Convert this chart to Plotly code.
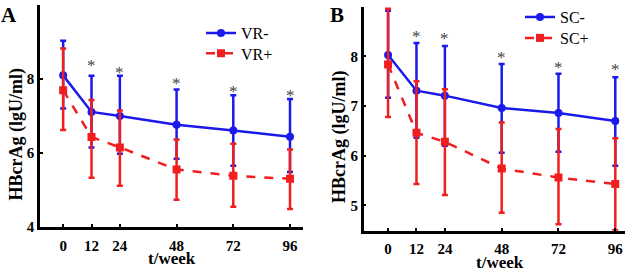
import plotly.graph_objects as go

W, H = 625, 274
weeks = [0, 12, 24, 48, 72, 96]
xtick_labels = ["0", "12", "24", "48", "72", "96"]

# Panel A
vr_minus = [8.10, 7.11, 7.00, 6.76, 6.61, 6.44]
vr_minus_up = [0.94, 0.98, 1.09, 0.96, 0.95, 1.02]
vr_minus_dn = [0.90, 0.96, 1.02, 0.92, 0.96, 0.96]
vr_plus = [7.70, 6.43, 6.15, 5.55, 5.38, 5.30]
vr_plus_up = [1.13, 1.00, 1.00, 0.81, 0.87, 0.79]
vr_plus_dn = [1.08, 1.10, 1.04, 0.82, 0.84, 0.82]
star_a_x = [12, 24, 48, 72, 96]
star_a_y = [8.48, 8.29, 8.00, 7.78, 7.67]

# Panel B
sc_minus = [8.03, 7.31, 7.21, 6.96, 6.86, 6.70]
sc_minus_up = [0.89, 0.96, 1.00, 0.89, 0.79, 0.88]
sc_minus_dn = [0.86, 0.95, 1.01, 0.90, 0.78, 0.90]
sc_plus = [7.84, 6.46, 6.28, 5.74, 5.56, 5.43]
sc_plus_up = [1.12, 1.04, 1.06, 0.93, 0.98, 0.92]
sc_plus_dn = [1.06, 1.03, 1.07, 0.89, 0.94, 0.93]
star_b_x = [12, 24, 48, 72, 96]
star_b_y = [8.49, 8.44, 8.06, 7.86, 7.82]

BLUE = "#1a1aeb"
RED = "#f01e1e"
SERIF = "Liberation Serif, Times New Roman, serif"


def px(x):
    return x / W


def py(y):
    return 1 - y / H


fig = go.Figure()


def add_series(xa, ya, y, up, dn, name, color, symbol, dash, legend):
    fig.add_trace(go.Scatter(
        x=weeks, y=y, xaxis=xa, yaxis=ya, name=name, legend=legend,
        mode="lines+markers",
        line=dict(color=color, width=2.5, dash=dash),
        marker=dict(color=color, size=8, symbol=symbol),
        error_y=dict(type="data", symmetric=False, array=up, arrayminus=dn,
                     color=color, thickness=2.5, width=3),
    ))


add_series("x", "y", vr_minus, vr_minus_up, vr_minus_dn, "VR-", BLUE, "circle", "solid", "legend")
add_series("x", "y", vr_plus, vr_plus_up, vr_plus_dn, "VR+", RED, "square", "dash", "legend3")
add_series("x2", "y2", sc_minus, sc_minus_up, sc_minus_dn, "SC-", BLUE, "circle", "solid", "legend2")
add_series("x2", "y2", sc_plus, sc_plus_up, sc_plus_dn, "SC+", RED, "square", "dash", "legend4")

axis_common = dict(
    showline=True, linecolor="black", linewidth=2.5, showgrid=False, zeroline=False,
    ticks="inside", ticklen=3, tickwidth=2, tickcolor="black",
    tickfont=dict(family=SERIF, size=15, color="black", weight="bold"),
)

annotations = []
for sx, sy in zip(star_a_x, star_a_y):
    annotations.append(dict(x=sx, y=sy, xref="x", yref="y", text="*", showarrow=False,
                            font=dict(family=SERIF, size=17, color="#444444"),
                            yanchor="middle", yshift=-4))
for sx, sy in zip(star_b_x, star_b_y):
    annotations.append(dict(x=sx, y=sy, xref="x2", yref="y2", text="*", showarrow=False,
                            font=dict(family=SERIF, size=17, color="#444444"),
                            yanchor="middle", yshift=-4))

bold = dict(family=SERIF, color="black", weight="bold")
annotations += [
    dict(x=px(9), y=py(13), xref="paper", yref="paper", text="A", showarrow=False,
         font=dict(size=21, **bold), xanchor="center", yanchor="middle"),
    dict(x=px(336.5), y=py(14), xref="paper", yref="paper", text="B", showarrow=False,
         font=dict(size=21, **bold), xanchor="center", yanchor="middle"),
    dict(x=px(172), y=py(266), xref="paper", yref="paper", text="t/week", showarrow=False,
         font=dict(size=17, **bold), xanchor="center", yanchor="middle"),
    dict(x=px(500), y=py(270), xref="paper", yref="paper", text="t/week", showarrow=False,
         font=dict(size=17, **bold), xanchor="center", yanchor="middle"),
    dict(x=px(16), y=py(137.5), xref="paper", yref="paper", text="HBcrAg (lgU/ml)", showarrow=False,
         font=dict(size=18, **bold), textangle=-90, xanchor="center", yanchor="middle"),
    dict(x=px(340), y=py(140), xref="paper", yref="paper", text="HBcrAg (lgU/ml)", showarrow=False,
         font=dict(size=18, **bold), textangle=-90, xanchor="center", yanchor="middle"),
]

leg_font = dict(family=SERIF, size=16, color="black")


def leg(x, top):
    return dict(x=px(x), y=py(top), xanchor="left", yanchor="top", font=leg_font,
                bgcolor="rgba(0,0,0,0)", itemwidth=30)


fig.update_layout(
    width=W, height=H,
    margin=dict(l=0, r=0, t=0, b=0),
    paper_bgcolor="white", plot_bgcolor="white",
    xaxis=dict(domain=[px(40), px(303)], range=[-9.8, 101.5], tickvals=weeks, ticktext=xtick_labels,
               anchor="y", ticklabelstandoff=3, **axis_common),
    yaxis=dict(domain=[py(233.3), py(3.3)], range=[4, 10], tickvals=[4, 6, 8, 10], anchor="x",
               **axis_common),
    xaxis2=dict(domain=[px(363.7), 1.0], range=[-10.3, 100.1], tickvals=weeks, ticktext=xtick_labels,
                anchor="y2", ticklabelstandoff=3, **axis_common),
    yaxis2=dict(domain=[py(237.3), py(5)], range=[4.49, 9.0], tickvals=[5, 6, 7, 8, 9], anchor="x2",
                **axis_common),
    legend=leg(201, 14.7),
    legend3=leg(201, 35.7),
    legend2=leg(520, -2),
    legend4=leg(520, 19.7),
    annotations=annotations,
    showlegend=True,
)

fig.write_html("out.html", config={"displayModeBar": False},
               post_script="document.body.style.margin='0';document.body.style.padding='0';")
